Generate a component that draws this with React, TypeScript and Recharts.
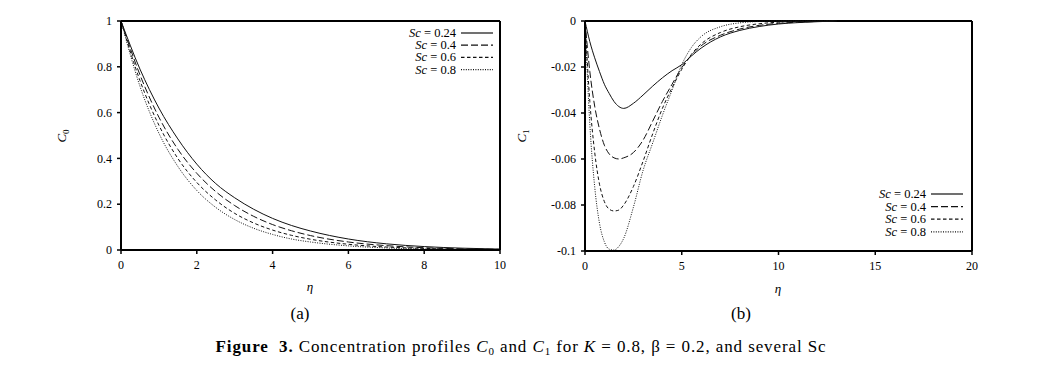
import React from 'react';
import { LineChart, Line, XAxis, YAxis, ReferenceLine } from 'recharts';

const SERIF = '"Liberation Serif", "Times New Roman", serif';

// Sc values and line styles
const scLabels = ['0.24', '0.4', '0.6', '0.8'];
const scKeys = ['s0', 's1', 's2', 's3'];
const scDash = [undefined, '7 3', '3.5 2.5', '1 1.4'];

// (a) C0 vs eta
const etaA = [0, 0.5, 1, 1.5, 2, 2.5, 3, 3.5, 4, 4.5, 5, 6, 7, 8, 9, 10];
const c0Sc024 = [1, 0.79, 0.62, 0.485, 0.375, 0.29, 0.228, 0.178, 0.138, 0.107, 0.083, 0.048, 0.027, 0.015, 0.008, 0.004];
const c0Sc04 = [1, 0.765, 0.58, 0.44, 0.335, 0.255, 0.194, 0.147, 0.111, 0.084, 0.063, 0.035, 0.019, 0.01, 0.005, 0.003];
const c0Sc06 = [1, 0.74, 0.545, 0.4, 0.295, 0.218, 0.16, 0.118, 0.087, 0.064, 0.047, 0.025, 0.013, 0.007, 0.003, 0.002];
const c0Sc08 = [1, 0.715, 0.51, 0.365, 0.26, 0.186, 0.133, 0.095, 0.068, 0.048, 0.035, 0.018, 0.009, 0.004, 0.002, 0.001];

// (b) C1 vs eta
const etaB = [0, 0.25, 0.5, 0.75, 1, 1.25, 1.5, 1.75, 2, 2.5, 3, 3.5, 4, 4.5, 5, 5.5, 6, 7, 8, 9, 10, 11, 12, 13];
const c1Sc024 = [0, -0.009, -0.016, -0.022, -0.0275, -0.0315, -0.035, -0.0372, -0.038, -0.0358, -0.0322, -0.0283, -0.0247, -0.0216, -0.019, -0.0152, -0.0118, -0.0069, -0.0041, -0.0024, -0.0013, -0.0007, -0.0003, 0];
const c1Sc04 = [0, -0.022, -0.037, -0.047, -0.054, -0.0578, -0.0595, -0.06, -0.0595, -0.0572, -0.0518, -0.0435, -0.035, -0.0275, -0.0203, -0.0148, -0.0108, -0.0062, -0.0035, -0.0019, -0.001, -0.0005, -0.0002, 0];
const c1Sc06 = [0, -0.035, -0.057, -0.071, -0.0785, -0.0818, -0.0826, -0.0822, -0.08, -0.072, -0.061, -0.049, -0.038, -0.029, -0.021, -0.0145, -0.01, -0.005, -0.0025, -0.0012, -0.0005, -0.0002, -0.0001, 0];
const c1Sc08 = [0, -0.045, -0.072, -0.088, -0.096, -0.0992, -0.0996, -0.098, -0.0945, -0.081, -0.065, -0.053, -0.041, -0.03, -0.019, -0.0115, -0.0068, -0.0025, -0.0008, -0.0002, 0, 0, 0, 0];

const ticksEtaA = [0, 2, 4, 6, 8, 10];
const ticksC0 = [0, 0.2, 0.4, 0.6, 0.8, 1];
const ticksEtaB = [0, 5, 10, 15, 20];
const ticksC1 = [-0.1, -0.08, -0.06, -0.04, -0.02, 0];

const dataA = etaA.map((eta, i) => ({ eta, s0: c0Sc024[i], s1: c0Sc04[i], s2: c0Sc06[i], s3: c0Sc08[i] }));
const dataB = etaB.map((eta, i) => ({ eta, s0: c1Sc024[i], s1: c1Sc04[i], s2: c1Sc06[i], s3: c1Sc08[i] }));

const tickStyle = { fontFamily: SERIF, fontSize: 12, fill: '#000' };
const axisLine = { stroke: '#000', strokeWidth: 2 };
const tickLine = { stroke: '#000', strokeWidth: 1.5 };

function ScLegend({ x, y, rowGap }: { x: number; y: number; rowGap: number }) {
  return (
    <g>
      {scLabels.map((lab, i) => (
        <g key={lab}>
          <text x={x} y={y + i * rowGap + 4} textAnchor="end" fontFamily={SERIF} fontSize={12.5} fill="#000">
            <tspan fontStyle="italic">Sc</tspan> = {lab}
          </text>
          <line x1={x + 5} x2={x + 37} y1={y + i * rowGap} y2={y + i * rowGap} stroke="#111" strokeWidth={1.2} strokeDasharray={scDash[i]} />
        </g>
      ))}
    </g>
  );
}

function YTitle({ x, y, sub }: { x: number; y: number; sub: string }) {
  return (
    <text x={x} y={y} transform={`rotate(-90 ${x} ${y})`} textAnchor="middle" fontFamily={SERIF} fontSize={13} fill="#000">
      <tspan fontStyle="italic">C</tspan>
      <tspan fontSize={9} dy={3}>{sub}</tspan>
    </text>
  );
}

function Curves() {
  return scKeys.map((k, i) => (
    <Line
      key={k}
      type="monotone"
      dataKey={k}
      stroke="#111"
      strokeWidth={1}
      strokeDasharray={scDash[i]}
      dot={false}
      isAnimationActive={false}
    />
  ));
}

export default function App() {
  return (
    <div style={{ position: 'absolute', left: 0, top: 0, width: 1055, height: 367, background: '#fff', fontFamily: SERIF }}>
      <div style={{ position: 'absolute', left: 0, top: 0 }}>
        <LineChart width={520} height={300} data={dataA} margin={{ top: 21, right: 20, left: 0, bottom: 0 }}>
          <XAxis type="number" dataKey="eta" domain={[0, 10]} ticks={ticksEtaA} height={50} tickSize={4} tickMargin={6} tick={tickStyle} axisLine={axisLine} tickLine={tickLine} />
          <YAxis type="number" domain={[0, 1]} ticks={ticksC0} width={121} tickSize={4} tickMargin={5} tick={tickStyle} axisLine={axisLine} tickLine={tickLine} />
          <ReferenceLine y={1} stroke="#000" strokeWidth={2} />
          <ReferenceLine x={10} stroke="#000" strokeWidth={2} />
          {Curves()}
        </LineChart>
      </div>
      <div style={{ position: 'absolute', left: 520, top: 0 }}>
        <LineChart width={520} height={300} data={dataB} margin={{ top: 21, right: 68, left: 0, bottom: 0 }}>
          <XAxis type="number" dataKey="eta" domain={[0, 20]} ticks={ticksEtaB} height={49} tickSize={4} tickMargin={6} tick={tickStyle} axisLine={axisLine} tickLine={tickLine} />
          <YAxis type="number" domain={[-0.1, 0]} ticks={ticksC1} width={65} tickSize={4} tickMargin={5} tick={tickStyle} axisLine={axisLine} tickLine={tickLine} />
          <ReferenceLine y={0} stroke="#000" strokeWidth={2} />
          <ReferenceLine x={20} stroke="#000" strokeWidth={2} />
          {Curves()}
        </LineChart>
      </div>
      <svg width={1055} height={367} style={{ position: 'absolute', left: 0, top: 0, pointerEvents: 'none' }}>
        <ScLegend x={456} y={33} rowGap={12.2} />
        <ScLegend x={926} y={194} rowGap={12.6} />
        <YTitle x={66} y={136} sub="0" />
        <YTitle x={526} y={136} sub="1" />
        <text x={310} y={291} textAnchor="middle" fontFamily={SERIF} fontSize={13} fontStyle="italic">η</text>
        <text x={778} y={293} textAnchor="middle" fontFamily={SERIF} fontSize={13} fontStyle="italic">η</text>
        <text x={300} y={319} textAnchor="middle" fontFamily={SERIF} fontSize={17}>(a)</text>
        <text x={741} y={319} textAnchor="middle" fontFamily={SERIF} fontSize={17}>(b)</text>
        <text x={521} y={352} textAnchor="middle" fontFamily={SERIF} fontSize={17} letterSpacing={0.9} xmlSpace="preserve">
          <tspan fontWeight="bold">Figure  3.</tspan>
          <tspan> Concentration profiles </tspan>
          <tspan fontStyle="italic">C</tspan>
          <tspan fontSize={11} dy={3}>0</tspan>
          <tspan dy={-3}> and </tspan>
          <tspan fontStyle="italic">C</tspan>
          <tspan fontSize={11} dy={3}>1</tspan>
          <tspan dy={-3}> for </tspan>
          <tspan fontStyle="italic">K</tspan>
          <tspan> = 0.8, β = 0.2, and several Sc</tspan>
        </text>
      </svg>
    </div>
  );
}
